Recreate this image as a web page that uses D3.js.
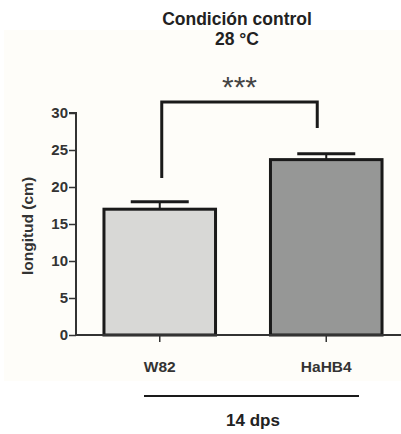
<!DOCTYPE html>
<html>
<head>
<meta charset="utf-8">
<script src="https://cdn.jsdelivr.net/npm/d3@7"></script>
<style>
  body { margin: 0; background: #ffffff; }
  text { font-family: Arial, "Liberation Sans", sans-serif; font-weight: bold; }
</style>
</head>
<body>
<script>
// données
const groups = ["W82", "HaHB4"];
const means = [17.0, 23.7];
const errors = [1.0, 0.8];
const barColors = ["#d8d8d6", "#969796"];
const yTicks = [0, 5, 10, 15, 20, 25, 30];

const W = 401, H = 434;
const margin = {top: 113, right: 0, bottom: 99, left: 76};
const height = H - margin.top - margin.bottom;

const svg = d3.select("body").append("svg")
  .attr("width", W).attr("height", H);

// panneau crème du fond
svg.append("rect")
  .attr("x", 4).attr("y", 30).attr("width", W - 4).attr("height", 351)
  .attr("fill", "#fefdf9");

const g = svg.append("g")
  .attr("transform", "translate(" + margin.left + "," + margin.top + ")");

const x = d3.scaleBand()
  .domain(groups)
  .range([0, 334])
  .paddingInner(0.33)
  .paddingOuter(0.168);

const y = d3.scaleLinear()
  .domain([0, 30])
  .range([height, 0]);

// barres
g.selectAll("rect.bar")
  .data(groups)
  .join("rect")
  .attr("class", "bar")
  .attr("x", d => x(d))
  .attr("y", (d, i) => y(means[i]))
  .attr("width", x.bandwidth())
  .attr("height", (d, i) => y(0) - y(means[i]))
  .attr("fill", (d, i) => barColors[i])
  .attr("stroke", "#1a1a1a")
  .attr("stroke-width", 3);

// barres d'erreur
groups.forEach((d, i) => {
  const cx = x(d) + x.bandwidth() / 2;
  g.append("line")
    .attr("x1", cx).attr("x2", cx)
    .attr("y1", y(means[i])).attr("y2", y(means[i] + errors[i]))
    .attr("stroke", "#1a1a1a").attr("stroke-width", 2);
  g.append("line")
    .attr("x1", cx - 29).attr("x2", cx + 29)
    .attr("y1", y(means[i] + errors[i])).attr("y2", y(means[i] + errors[i]))
    .attr("stroke", "#1a1a1a").attr("stroke-width", 3);
});

// axe Y
const yAxis = g.append("g")
  .call(d3.axisLeft(y).tickValues(yTicks).tickSize(7).tickPadding(1));
yAxis.select(".domain").attr("stroke", "#333").attr("stroke-width", 2)
  .attr("d", "M0," + y(0) + "V" + y(30) + "H-7");
yAxis.selectAll(".tick line").attr("stroke", "#333").attr("stroke-width", 1.5);
yAxis.selectAll(".tick text").attr("font-size", 15).attr("fill", "#333")
  .style("font-family", "Arial, 'Liberation Sans', sans-serif").style("font-weight", "bold");

// axe X
const xAxis = g.append("g")
  .attr("transform", "translate(0," + height + ")")
  .call(d3.axisBottom(x).tickSize(7).tickPadding(19));
xAxis.select(".domain").attr("stroke", "#333").attr("stroke-width", 2)
  .attr("d", "M0,0H" + (W - margin.left));
xAxis.selectAll(".tick line").attr("stroke", "#333").attr("stroke-width", 1.5);
xAxis.selectAll(".tick text").attr("font-size", 15.5).attr("fill", "#333")
  .style("font-family", "Arial, 'Liberation Sans', sans-serif").style("font-weight", "bold");

// titre de l'axe Y
svg.append("text")
  .attr("transform", "translate(33,226) rotate(-90)")
  .attr("text-anchor", "middle")
  .attr("font-size", 15.5).attr("fill", "#333")
  .text("longitud (cm)");

// titre
svg.append("text").attr("x", 237).attr("y", 25).attr("text-anchor", "middle")
  .attr("font-size", 17.5).attr("fill", "#222").text("Condición control");
svg.append("text").attr("x", 237).attr("y", 45).attr("text-anchor", "middle")
  .attr("font-size", 17.5).attr("fill", "#222").text("28 °C");

// crochet de significativité
const x1 = margin.left + x("W82") + x.bandwidth() / 2 + 2;
const x2 = margin.left + x("HaHB4") + x.bandwidth() / 2 - 9;
const yTop = 102;
svg.append("path")
  .attr("d", "M" + x1 + "," + (margin.top + y(21.2)) + "V" + yTop + "H" + x2 + "V" + 128)
  .attr("fill", "none").attr("stroke", "#1a1a1a").attr("stroke-width", 3);
svg.append("text").attr("x", (x1 + x2) / 2).attr("y", 97).attr("text-anchor", "middle")
  .attr("font-size", 30).attr("fill", "#444").style("font-weight", "normal").text("***");

// ligne et légende du bas
svg.append("line").attr("x1", 144).attr("x2", 359).attr("y1", 396).attr("y2", 396)
  .attr("stroke", "#1a1a1a").attr("stroke-width", 2);
svg.append("text").attr("x", 253).attr("y", 426).attr("text-anchor", "middle")
  .attr("font-size", 17).attr("fill", "#222").text("14 dps");
</script>
</body>
</html>
